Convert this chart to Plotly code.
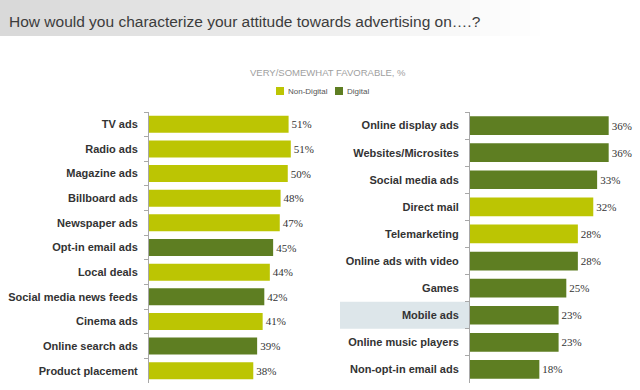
import plotly.graph_objects as go

# ---- data ----
left_labels = ["TV ads", "Radio ads", "Magazine ads", "Billboard ads", "Newspaper ads",
               "Opt-in email ads", "Local deals", "Social media news feeds", "Cinema ads",
               "Online search ads", "Product placement"]
left_values = [50.6, 51.4, 50.3, 47.7, 47.4, 45.0, 43.8, 41.8, 41.2, 39.2, 37.8]
left_types = ["Non-Digital", "Non-Digital", "Non-Digital", "Non-Digital", "Non-Digital",
              "Digital", "Non-Digital", "Digital", "Non-Digital", "Digital", "Non-Digital"]

right_labels = ["Online display ads", "Websites/Microsites", "Social media ads", "Direct mail",
                "Telemarketing", "Online ads with video", "Games", "Mobile ads",
                "Online music players", "Non-opt-in email ads"]
right_values = [36, 36, 33, 32, 28, 28, 25, 23, 23, 18]
right_types = ["Digital", "Digital", "Digital", "Non-Digital", "Non-Digital",
               "Digital", "Digital", "Digital", "Digital", "Digital"]

highlight_label = "Mobile ads"
series_names = ["Non-Digital", "Digital"]
colors = {"Non-Digital": "#bcc503", "Digital": "#5e7e22"}

TITLE = "How would you characterize your attitude towards advertising on\u2026.?"
SUBTITLE = "VERY/SOMEWHAT FAVORABLE, %"

W, H = 640, 390
SANS = "Liberation Sans, Arial, sans-serif"
fig = go.Figure()

def add_panel(labels, values, types, xa, ya):
    for s in series_names:
        ys = [l for l, t in zip(labels, types) if t == s]
        xs = [v for v, t in zip(values, types) if t == s]
        fig.add_trace(go.Bar(
            x=xs, y=ys, orientation="h", name=s, legendgroup=s,
            showlegend=False, xaxis=xa, yaxis=ya,
            marker=dict(color=colors[s], line=dict(width=0)),
            texttemplate="%{x:.0f}%", textposition="outside", cliponaxis=False,
            textfont=dict(family="Liberation Serif, DejaVu Serif, serif", size=11, color="#333333"),
            hoverinfo="skip",
        ))

add_panel(left_labels, left_values, left_types, "x", "y")
add_panel(right_labels, right_values, right_types, "x2", "y2")

ydom = [1 - 383 / H, 1 - 112 / H]
common_y = dict(type="category", autorange="reversed", domain=ydom, showline=True,
                linecolor="#a8a8a8", linewidth=1, ticks="outside", tickson="boundaries",
                ticklen=4, tickcolor="#a8a8a8", showgrid=False, ticklabelstandoff=8,
                automargin=False,
                tickfont=dict(family=SANS, size=11, color="#333333", weight="bold"))
common_x = dict(showgrid=False, zeroline=False, showticklabels=False, showline=False,
                ticks="", automargin=False)

fig.update_layout(
    width=W, height=H, margin=dict(l=0, r=0, t=0, b=0),
    paper_bgcolor="white", plot_bgcolor="rgba(0,0,0,0)",
    barmode="relative", bargap=0.31, showlegend=False,
    xaxis=dict(domain=[149 / W, 309 / W], range=[0, 58], **common_x),
    yaxis=dict(anchor="x", categoryorder="array", categoryarray=left_labels, **common_y),
    xaxis2=dict(domain=[470 / W, 639.5 / W], range=[0, 44], **common_x),
    yaxis2=dict(anchor="x2", categoryorder="array", categoryarray=right_labels, **common_y),
    font=dict(family=SANS),
)

# title band gradient (decorative)
n = 64
for i in range(n):
    f = i / (n - 1)
    t = min(1.0, f / 0.85)
    c = int(217 + (255 - 217) * t)
    fig.add_shape(type="rect", xref="paper", yref="paper", x0=i / n, x1=(i + 1) / n + 0.002,
                  y0=1 - 36 / H, y1=1, fillcolor=f"rgb({c},{c},{c})", line=dict(width=0), layer="below")

# highlight behind "Mobile ads" label
idx = right_labels.index(highlight_label)
fig.add_shape(type="rect", xref="paper", yref="y2", x0=340 / W, x1=469 / W,
              y0=idx - 0.5, y1=idx + 0.5, fillcolor="#dde6ea", line=dict(width=0), layer="below")

fig.add_annotation(text=TITLE, xref="paper", yref="paper", x=7 / W, y=1 - 21 / H,
                   xanchor="left", yanchor="middle", showarrow=False,
                   font=dict(family=SANS, size=15.5, color="#3c3c3c"))
fig.add_annotation(text=SUBTITLE, xref="paper", yref="paper", x=328 / W, y=1 - 72 / H,
                   xanchor="center", yanchor="middle", showarrow=False,
                   font=dict(family=SANS, size=9.5, color="#a0a0a0"))

# manual legend (swatch + label per series)
legend_x = {"Non-Digital": 276, "Digital": 335}
for s in series_names:
    x0 = legend_x[s]
    fig.add_shape(type="rect", xref="paper", yref="paper", x0=x0 / W, x1=(x0 + 8) / W,
                  y0=1 - 95 / H, y1=1 - 87 / H, fillcolor=colors[s], line=dict(width=0))
    fig.add_annotation(text=s, xref="paper", yref="paper", x=(x0 + 10) / W, y=1 - 91 / H,
                       xanchor="left", yanchor="middle", showarrow=False,
                       font=dict(family=SANS, size=8, color="#555555"))

fig.write_html("out.html", config={"displayModeBar": False},
               post_script="document.body.style.margin='0';")
